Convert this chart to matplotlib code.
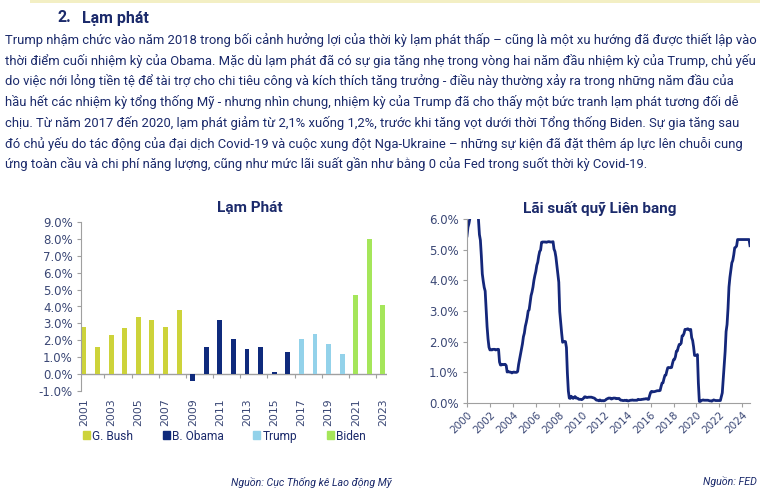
import matplotlib
matplotlib.use("Agg")
import matplotlib.pyplot as plt
from matplotlib.patches import Rectangle
from matplotlib.ticker import FuncFormatter, FixedLocator

# --- data ---
years = list(range(2001, 2024))
inflation = [2.8, 1.6, 2.3, 2.7, 3.4, 3.2, 2.8, 3.8,
             -0.4, 1.6, 3.2, 2.1, 1.5, 1.6, 0.1, 1.3,
             2.1, 2.4, 1.8, 1.2,
             4.7, 8.0, 4.1]
president = ["G. Bush"] * 8 + ["B. Obama"] * 8 + ["Trump"] * 4 + ["Biden"] * 3
pres_colors = {"G. Bush": "#cdd33a", "B. Obama": "#0f2a7c",
               "Trump": "#93d2ea", "Biden": "#a5e65a"}

# effective fed funds rate, monthly from Jan 2000 to Sep 2024
fed_rate = [
    5.45, 5.73, 5.85, 6.02, 6.27, 6.53, 6.54, 6.50, 6.52, 6.51, 6.51, 6.40,
    5.98, 5.49, 5.31, 4.80, 4.21, 3.97, 3.77, 3.65, 3.07, 2.49, 2.09, 1.82,
    1.73, 1.74, 1.73, 1.75, 1.75, 1.75, 1.73, 1.74, 1.75, 1.75, 1.34, 1.24,
    1.24, 1.26, 1.25, 1.26, 1.26, 1.22, 1.01, 1.03, 1.01, 1.01, 1.00, 0.98,
    1.00, 1.01, 1.00, 1.00, 1.00, 1.03, 1.26, 1.43, 1.61, 1.76, 1.93, 2.16,
    2.28, 2.50, 2.63, 2.79, 3.00, 3.04, 3.26, 3.50, 3.62, 3.78, 4.00, 4.16,
    4.29, 4.49, 4.59, 4.79, 4.94, 4.99, 5.24, 5.25, 5.25, 5.25, 5.25, 5.24,
    5.25, 5.26, 5.26, 5.25, 5.25, 5.25, 5.26, 5.02, 4.94, 4.76, 4.49, 4.24,
    3.94, 2.98, 2.61, 2.28, 1.98, 2.00, 2.01, 2.00, 1.81, 0.97, 0.39, 0.16,
    0.15, 0.22, 0.18, 0.15, 0.18, 0.21, 0.16, 0.16, 0.15, 0.12, 0.12, 0.12,
    0.11, 0.13, 0.16, 0.20, 0.20, 0.18, 0.18, 0.19, 0.19, 0.19, 0.19, 0.18,
    0.17, 0.16, 0.14, 0.10, 0.09, 0.09, 0.07, 0.10, 0.08, 0.07, 0.08, 0.07,
    0.08, 0.10, 0.13, 0.14, 0.16, 0.16, 0.16, 0.13, 0.14, 0.16, 0.16, 0.16,
    0.14, 0.15, 0.14, 0.15, 0.11, 0.09, 0.09, 0.08, 0.08, 0.09, 0.08, 0.09,
    0.07, 0.07, 0.08, 0.09, 0.09, 0.10, 0.09, 0.09, 0.09, 0.09, 0.09, 0.12,
    0.11, 0.11, 0.11, 0.12, 0.12, 0.13, 0.13, 0.14, 0.14, 0.12, 0.12, 0.24,
    0.34, 0.38, 0.36, 0.37, 0.37, 0.38, 0.39, 0.40, 0.40, 0.40, 0.41, 0.54,
    0.65, 0.66, 0.79, 0.90, 0.91, 1.04, 1.15, 1.16, 1.15, 1.15, 1.16, 1.30,
    1.41, 1.42, 1.51, 1.69, 1.70, 1.82, 1.91, 1.91, 1.95, 2.19, 2.20, 2.27,
    2.40, 2.40, 2.41, 2.42, 2.39, 2.38, 2.40, 2.13, 2.04, 1.83, 1.55, 1.55,
    1.55, 1.58, 0.65, 0.05, 0.05, 0.08, 0.09, 0.10, 0.09, 0.09, 0.09, 0.09,
    0.09, 0.08, 0.07, 0.07, 0.06, 0.08, 0.10, 0.09, 0.08, 0.08, 0.08, 0.08,
    0.08, 0.08, 0.20, 0.33, 0.77, 1.21, 1.68, 2.33, 2.56, 3.08, 3.78, 4.10,
    4.33, 4.57, 4.65, 4.83, 5.06, 5.08, 5.12, 5.33, 5.33, 5.33, 5.33, 5.33,
    5.33, 5.33, 5.33, 5.33, 5.33, 5.33, 5.33, 5.33, 5.13,
]
fed_x = [2000 + i / 12 for i in range(len(fed_rate))]
fed_ticks = list(range(2000, 2025, 2))

heading = "Lạm phát"
paragraph = [
    "Trump nhậm chức vào năm 2018 trong bối cảnh hưởng lợi của thời kỳ lạm phát thấp – cũng là một xu hướng đã được thiết lập vào",
    "thời điểm cuối nhiệm kỳ của Obama. Mặc dù lạm phát đã có sự gia tăng nhẹ trong vòng hai năm đầu nhiệm kỳ của Trump, chủ yếu",
    "do việc nới lỏng tiền tệ để tài trợ cho chi tiêu công và kích thích tăng trưởng - điều này thường xảy ra trong những năm đầu của",
    "hầu hết các nhiệm kỳ tổng thống Mỹ - nhưng nhìn chung, nhiệm kỳ của Trump đã cho thấy một bức tranh lạm phát tương đối dễ",
    "chịu. Từ năm 2017 đến 2020, lạm phát giảm từ 2,1% xuống 1,2%, trước khi tăng vọt dưới thời Tổng thống Biden. Sự gia tăng sau",
    "đó chủ yếu do tác động của đại dịch Covid-19 và cuộc xung đột Nga-Ukraine – những sự kiện đã đặt thêm áp lực lên chuỗi cung",
    "ứng toàn cầu và chi phí năng lượng, cũng như mức lãi suất gần như bằng 0 của Fed trong suốt thời kỳ Covid-19.",
]

NAVY = "#1b2a6b"
TICK = "#3a4775"
GREY = "#a0a0a0"
BODY = "Roboto"

fig = plt.figure(figsize=(7.82, 4.98), dpi=100)
W, H = 782, 498

def fx(px):
    return px / W

def fy(py):
    return 1 - py / H

# top thin band
fig.patches.append(Rectangle((fx(30), fy(3)), fx(730), 3 / H, transform=fig.transFigure,
                             facecolor="#f3efc4", edgecolor="none"))

fig.text(fx(58), fy(18), "2.", fontsize=11.5, fontweight="bold", family=BODY, color=NAVY, va="center")
fig.text(fx(82), fy(18), heading, fontsize=11.5, fontweight="bold", family=BODY, color=NAVY, va="center")
for i, line in enumerate(paragraph):
    fig.text(fx(5), fy(40 + i * 20.7), line, fontsize=9.4, family=BODY,
             color=NAVY, va="center")

# --- left: inflation bars ---
ax1 = fig.add_axes([fx(81), fy(391), fx(387 - 81), (391 - 222) / H])
pos = list(range(len(years)))
colors = [pres_colors[p] for p in president]
ax1.bar(pos, inflation, width=0.36, color=colors)
ax1.set_xlim(-0.22, len(years) - 0.7)
ax1.set_ylim(-1, 9)
ax1.set_yticks(range(-1, 10))
ax1.yaxis.set_major_formatter(FuncFormatter(lambda v, p: f"{v:.1f}%"))
ax1.set_xticks(pos[::2])
ax1.set_xticklabels([str(y) for y in years[::2]], rotation=90)
ax1.tick_params(axis="x", length=0, pad=5, labelsize=7.8, labelcolor=TICK)
ax1.tick_params(axis="y", length=3, color=GREY, labelsize=8.5, labelcolor=TICK, pad=3)
for s in ["top", "right", "bottom"]:
    ax1.spines[s].set_visible(False)
ax1.spines["left"].set_color(GREY)
ax1.axhline(0, color=GREY, lw=1, zorder=0.5)
zero_axis = ax1.secondary_xaxis(0.1)
zero_axis.xaxis.set_major_locator(FixedLocator([p + 1.5 for p in pos[::2][:-1]]))
zero_axis.tick_params(length=3, color=GREY, labelbottom=False)
zero_axis.spines["bottom"].set_visible(False)
fig.text(fx(250), fy(208), "Lạm Phát", fontsize=11, fontweight="bold", family=BODY,
         color=NAVY, ha="center", va="center")

handles = [Rectangle((0, 0), 1, 1, color=pres_colors[k]) for k in pres_colors]
fig.legend(handles, list(pres_colors), loc="center left", bbox_to_anchor=(fx(72), fy(436)),
           ncol=4, frameon=False, handlelength=0.6, handleheight=0.6,
           handletextpad=0.15, columnspacing=2.5, labelcolor=NAVY,
           prop={"family": BODY, "size": 8.6})

fig.text(fx(392), fy(482), "Nguồn: Cục Thống kê Lao động Mỹ", fontsize=7.7, style="italic",
         family=BODY, color=NAVY, ha="right", va="center")

# --- right: fed funds rate ---
ax2 = fig.add_axes([fx(467), fy(403), fx(750 - 467), (403 - 219) / H])
ax2.plot(fed_x, fed_rate, color="#14277a", lw=2)
ax2.set_xlim(2000, fed_x[-1])
ax2.set_ylim(0, 6)
ax2.set_yticks(range(0, 7))
ax2.yaxis.set_major_formatter(FuncFormatter(lambda v, p: f"{v:.1f}%"))
ax2.set_xticks(fed_ticks)
ax2.set_xticklabels([str(y) for y in fed_ticks], rotation=45, ha="right",
                    rotation_mode="anchor")
ax2.tick_params(axis="x", length=3, color=GREY, labelsize=7.5, labelcolor=TICK, pad=2)
ax2.tick_params(axis="y", length=3, color=GREY, labelsize=8.5, labelcolor=TICK, pad=3)
for s in ["top", "right"]:
    ax2.spines[s].set_visible(False)
ax2.spines["left"].set_color(GREY)
ax2.spines["bottom"].set_color(GREY)
fig.text(fx(600), fy(208), "Lãi suất quỹ Liên bang", fontsize=11, fontweight="bold",
         family=BODY, color=NAVY, ha="center", va="center")
fig.text(fx(757), fy(482), "Nguồn: FED", fontsize=7.7, style="italic",
         family=BODY, color=NAVY, ha="right", va="center")

fig.savefig("out.png", dpi=100)
